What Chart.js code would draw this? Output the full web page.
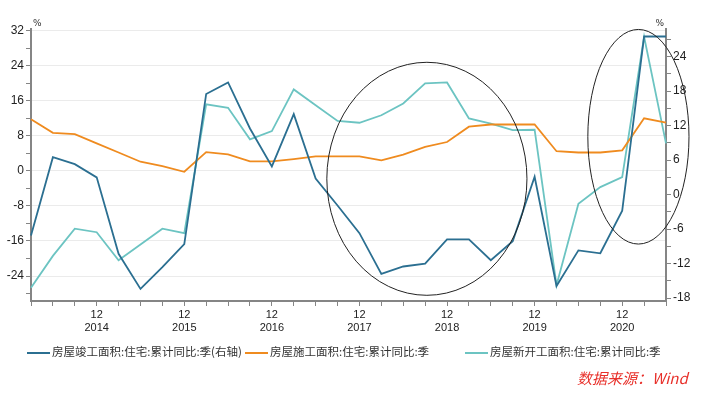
<!DOCTYPE html>
<html>
<head>
<meta charset="utf-8">
<script src="https://cdn.jsdelivr.net/npm/chart.js@4.4.1/dist/chart.umd.min.js"></script>
<style>
  body { margin: 0; background: #fff; }
  #wrap { position: relative; width: 702px; height: 396px; }
  .legend { position: absolute; top: 343px; font: 11.5px "Noto Sans CJK SC", sans-serif; color: #333; white-space: nowrap; }
  .legend span.sw { display: inline-block; width: 23px; height: 0; border-top: 2px solid; vertical-align: middle; margin-right: 2px; }
  #src { position: absolute; left: 577px; top: 367px; font: italic 15px "Noto Sans CJK SC", sans-serif; color: #e8302a; }
</style>
</head>
<body>
<div id="wrap">
  <canvas id="myChart" width="702" height="396"></canvas>
  <div class="legend" style="left:27px"><span class="sw" style="border-color:#2b6f91"></span>房屋竣工面积:住宅:累计同比:季(右轴)</div>
  <div class="legend" style="left:245px"><span class="sw" style="border-color:#ef8b1f"></span>房屋施工面积:住宅:累计同比:季</div>
  <div class="legend" style="left:465px"><span class="sw" style="border-color:#6cc4c2"></span>房屋新开工面积:住宅:累计同比:季</div>
  <div id="src">数据来源：Wind</div>
</div>
<script>
// quarterly, 2014-03 .. 2021-06
const quarters = ['2014-03','2014-06','2014-09','2014-12','2015-03','2015-06','2015-09','2015-12',
  '2016-03','2016-06','2016-09','2016-12','2017-03','2017-06','2017-09','2017-12',
  '2018-03','2018-06','2018-09','2018-12','2019-03','2019-06','2019-09','2019-12',
  '2020-03','2020-06','2020-09','2020-12','2021-03','2021-06']

// 竣工 (right axis)
const completed = [-7.1, 6.5, 5.3, 3.0, -10.3, -16.4, -12.6, -8.6, 17.5, 19.5, 11.5, 4.9, 14.0, 2.8, -1.9,
  -6.7, -13.8, -12.5, -12.0, -7.8, -7.8, -11.4, -8.1, 3.1, -15.9, -9.7, -10.2, -2.8, 27.5, 27.5]
// 施工 (left axis)
const underConstruction = [11.8, 8.7, 8.4, 6.3, 4.2, 2.1, 1.1, -0.2, 4.3, 3.8, 2.2, 2.2, 2.7, 3.3, 3.3,
  3.3, 2.4, 3.7, 5.5, 6.6, 10.1, 10.6, 10.6, 10.6, 4.5, 4.2, 4.2, 4.7, 12.0, 11.0]
// 新开工 (left axis)
const newStarts = [-26.7, -19.4, -13.2, -14.0, -20.4, -16.8, -13.2, -14.2, 15.2, 14.4, 7.2, 9.1, 18.6, 15.0, 11.4,
  11.0, 12.7, 15.4, 20.0, 20.2, 12.0, 10.8, 9.3, 9.4, -26.1, -7.5, -3.7, -1.4, 30.6, 6.3]

const leftTicks = [-28,-26,-24,-22,-20,-18,-16,-14,-12,-10,-8,-6,-4,-2,0,2,4,6,8,10,12,14,16,18,20,22,24,26,28,30,32]
const rightTicks = [-18,-15,-12,-9,-6,-3,0,3,6,9,12,15,18,21,24,27]

// circled areas: [center index, center value (left axis), half width in quarters, half height in %]
const circles = [[18.08, -1.8, 4.57, 26.6], [27.74, 7.8, 2.31, 24.5]]

const axisGray = '#858585'

const extras = {
  id: 'extras',
  afterDraw(chart) {
    const ctx = chart.ctx
    const x = chart.scales.x, y = chart.scales.y
    ctx.save()
    ctx.strokeStyle = '#222'
    ctx.lineWidth = 1
    circles.forEach(c => {
      const cx = x.getPixelForValue(c[0])
      const cy = y.getPixelForValue(c[1])
      const rx = x.getPixelForValue(c[0] + c[2]) - cx
      const ry = cy - y.getPixelForValue(c[1] + c[3])
      ctx.beginPath()
      ctx.ellipse(cx, cy, rx, ry, 0, 0, Math.PI * 2)
      ctx.stroke()
    })
    ctx.fillStyle = '#333'
    ctx.font = '9px "DejaVu Sans", sans-serif'
    ctx.textBaseline = 'bottom'
    ctx.textAlign = 'left'
    ctx.fillText('%', chart.chartArea.left + 2, chart.chartArea.top - 1)
    ctx.textAlign = 'right'
    ctx.fillText('%', chart.chartArea.right - 2, chart.chartArea.top - 1)
    ctx.restore()
  }
}

new Chart(document.getElementById('myChart'), {
  type: 'line',
  data: {
    labels: quarters,
    datasets: [
      { label: '房屋竣工面积:住宅:累计同比:季(右轴)', data: completed, yAxisID: 'y1', borderColor: '#2b6f91' },
      { label: '房屋施工面积:住宅:累计同比:季', data: underConstruction, yAxisID: 'y', borderColor: '#ef8b1f' },
      { label: '房屋新开工面积:住宅:累计同比:季', data: newStarts, yAxisID: 'y', borderColor: '#6cc4c2' }
    ]
  },
  options: {
    responsive: false,
    animation: false,
    layout: { padding: { top: 29, bottom: 50, left: 0, right: 0 } },
    elements: { point: { radius: 0 }, line: { borderWidth: 1.8, tension: 0 } },
    plugins: { legend: { display: false }, tooltip: { enabled: false } },
    scales: {
      x: {
        offset: false,
        afterFit: s => { s.height = 45 },
        border: { color: axisGray, width: 2 },
        grid: { drawOnChartArea: false, tickLength: 5, color: axisGray, lineWidth: 1 },
        ticks: {
          autoSkip: false, maxRotation: 0, padding: 2, color: '#222',
          font: { family: 'Liberation Sans, Arial', size: 11 }, lineHeight: 1.5,
          callback: function (v) {
            const q = quarters[v].split('-')
            return q[1] === '12' ? ['12', q[0]] : ''
          }
        }
      },
      y: {
        position: 'left',
        min: -29.7, max: 32.4,
        afterFit: s => { s.width = 31 },
        afterBuildTicks: s => { s.ticks = leftTicks.map(v => ({ value: v })) },
        border: { color: axisGray, width: 2 },
        grid: {
          tickLength: 5, tickColor: axisGray,
          color: c => (c.tick && c.tick.value % 8 === 0) ? '#ebebeb' : 'rgba(0,0,0,0)'
        },
        ticks: {
          padding: 2, color: '#222', font: { family: 'Liberation Sans, Arial', size: 12 },
          callback: v => v % 8 === 0 ? v : ''
        }
      },
      y1: {
        position: 'right',
        min: -18.5, max: 28.8,
        afterFit: s => { s.width = 36 },
        afterBuildTicks: s => { s.ticks = rightTicks.map(v => ({ value: v })) },
        border: { color: axisGray, width: 2 },
        grid: { drawOnChartArea: false, tickLength: 5, color: axisGray },
        ticks: {
          padding: 2, color: '#222', font: { family: 'Liberation Sans, Arial', size: 12 },
          callback: v => v % 6 === 0 ? v : ''
        }
      }
    }
  },
  plugins: [extras]
})
</script>
</body>
</html>
